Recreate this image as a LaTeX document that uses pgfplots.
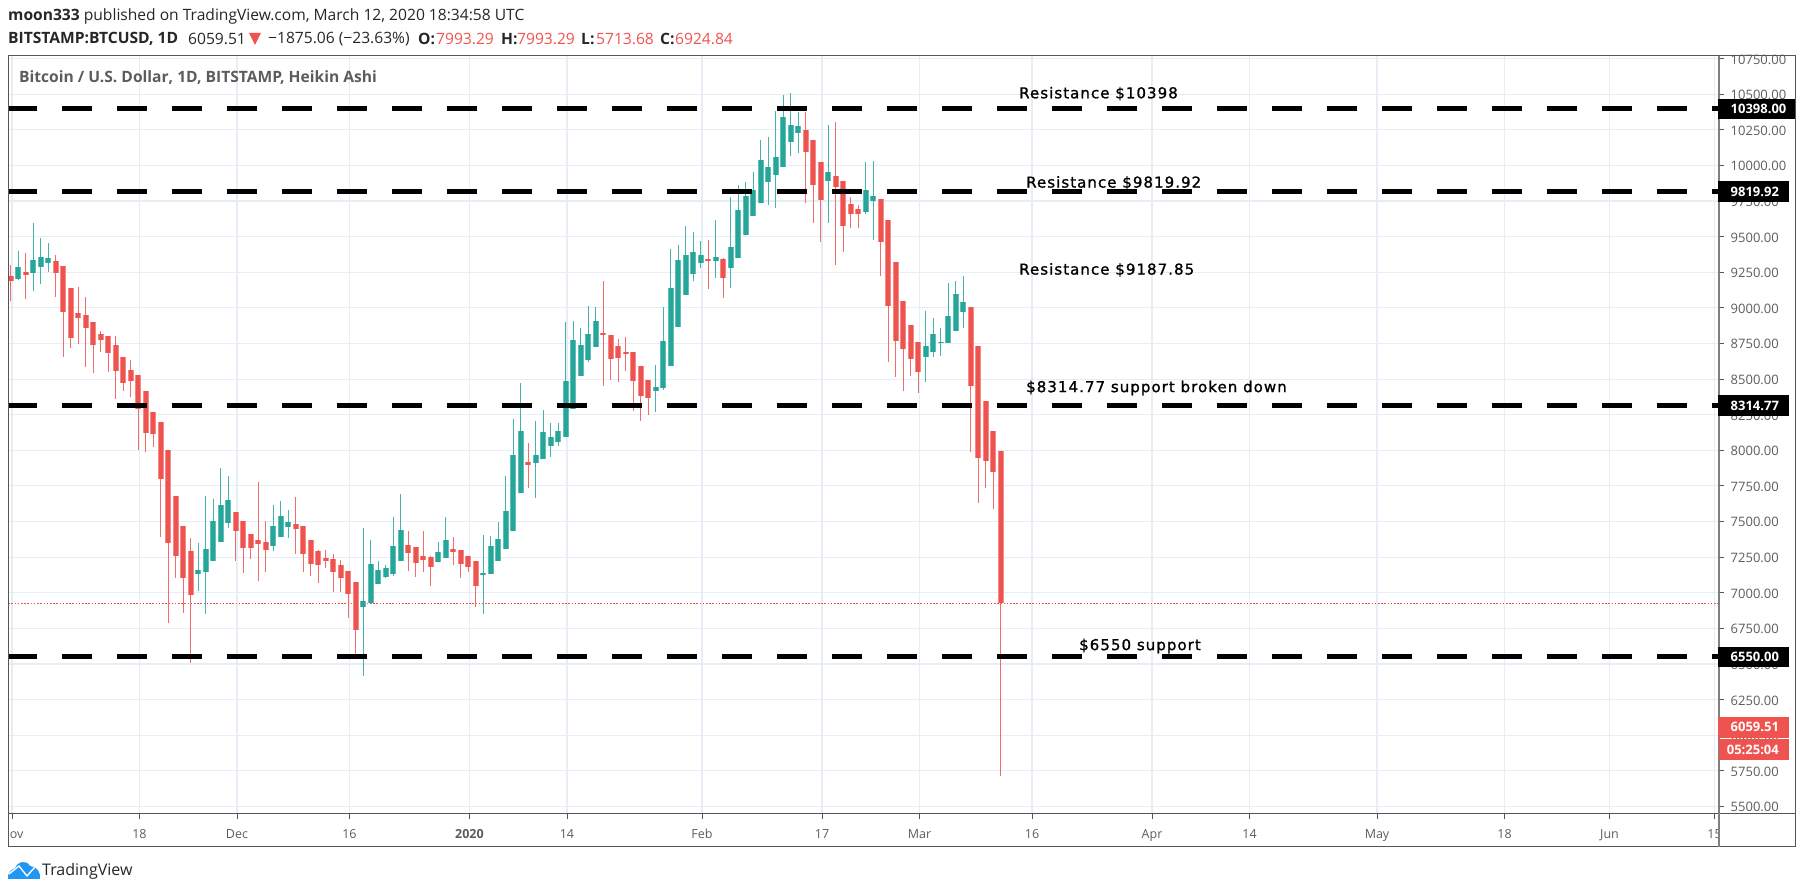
\documentclass[border=0pt]{standalone}
\usepackage{pgfplots}
\usepackage{pgfplotstable}
\usepackage{fontspec}
\pgfplotsset{compat=1.18}
\setmainfont{Open Sans}
\newfontfamily\annfont[FakeBold=1.2,LetterSpace=7]{DejaVu Sans}
\definecolor{upc}{HTML}{26A69A}
\definecolor{dnc}{HTML}{EF5350}
\definecolor{upe}{HTML}{62BFB6}
\definecolor{dne}{HTML}{F58A87}
\definecolor{gridc}{HTML}{E6EDF4}
\definecolor{framec}{HTML}{555555}
\definecolor{labc}{HTML}{5C5C5C}
\definecolor{tvblue}{HTML}{2196F3}
% day h(igh) t(op of body) b(ottom of body) l(ow)
\pgfplotstableread{
d h t b l
0 9301 9224 9191 9051
2 9383 9252 9233 9060
6 9371 9327 9243 9079
7 9294 9294 8973 8658
8 9137 9137 8786 8716
9 9144 8962 8927 8744
10 9074 8950 8859 8587
11 8899 8899 8737 8541
12 8835 8819 8772 8690
13 8800 8800 8681 8552
14 8800 8739 8559 8358
15 8653 8653 8473 8419
16 8634 8564 8489 8377
17 8529 8529 8288 8005
18 8414 8414 8122 7991
19 8267 8267 8112 8026
20 8197 8197 7796 7394
21 8005 8005 7347 6786
22 7677 7677 7261 7101
23 7467 7467 7101 6856
24 7382 7291 6982 6505
30 7565 7565 7436 7226
31 7502 7502 7312 7137
32 7415 7415 7312 7235
33 7775 7371 7340 7085
34 7502 7354 7303 7146
38 7670 7485 7445 7270
39 7468 7468 7270 7146
40 7373 7373 7199 7120
41 7300 7291 7192 7066
42 7300 7241 7225 7171
43 7274 7239 7148 7005
44 7230 7195 7101 7005
45 7150 7150 6989 6820
46 7073 7073 6741 6551
53 7431 7335 7279 7153
54 7319 7319 7206 7110
55 7431 7258 7232 7146
56 7258 7249 7183 7050
59 7389 7309 7286 7197
60 7300 7300 7199 7101
61 7258 7258 7181 7146
62 7220 7220 7050 6902
69 8049 7918 7899 7733
79 9189 8824 8812 8454
80 8810 8810 8639 8496
81 8784 8730 8646 8480
82 8793 8690 8679 8559
83 8688 8688 8489 8279
84 8590 8590 8384 8208
85 8494 8494 8365 8250
93 9477 9346 9332 9130
95 9348 9346 9208 9067
106 10378 10249 10095 9734
107 10179 10179 9865 9594
108 10022 10022 9760 9463
110 10303 9924 9849 9304
111 9889 9889 9577 9393
112 9776 9732 9657 9559
113 9722 9697 9657 9559
116 9767 9767 9463 9226
117 9617 9617 9015 8620
118 9320 9320 8770 8515
119 9046 9046 8709 8419
120 8882 8882 8639 8524
121 8758 8758 8552 8400
128 9004 9004 8454 7986
129 8730 8730 7944 7628
130 8344 8344 7927 7733
131 8133 8133 7848 7586
132 7993.29 7993.29 6924.84 5713.68
}\downcandles
\pgfplotstableread{
d h t b l
1 9399 9285 9200 9196
3 9594 9336 9243 9121
4 9488 9355 9289 9165
5 9453 9348 9313 9252
25 7347 7160 7130 7015
26 7677 7310 7148 6849
27 7661 7502 7226 7226
28 7874 7616 7359 7359
29 7818 7651 7490 7452
35 7616 7467 7331 7296
36 7642 7537 7394 7394
37 7581 7495 7464 7382
47 7452 6940 6900 6418
48 7370 7204 6926 6926
49 7220 7160 7059 7059
50 7197 7171 7108 7101
51 7532 7326 7129 7120
52 7695 7440 7225 7225
57 7354 7284 7216 7216
58 7529 7370 7241 7241
63 7405 7139 7127 6848
64 7398 7326 7129 7129
65 7494 7380 7225 7225
66 7817 7571 7305 7305
67 8222 7967 7436 7436
68 8471 8133 7698 7698
70 8203 7967 7908 7663
71 8283 8126 7936 7936
72 8189 8091 8032 7955
73 8194 8133 8060 8033
74 8899 8484 8094 8094
75 8906 8775 8288 8288
76 8856 8739 8524 8524
77 9013 8819 8632 8618
78 9004 8906 8725 8725
86 8599 8442 8419 8269
87 9004 8765 8438 8424
88 9416 9142 8594 8594
89 9441 9336 8866 8866
90 9575 9371 9093 9093
91 9530 9390 9236 9189
92 9470 9371 9313 9278
94 9617 9355 9332 9208
96 9776 9430 9278 9137
97 9863 9687 9348 9348
98 9882 9783 9514 9514
99 9952 9828 9648 9648
100 10179 10038 9734 9734
101 10198 9987 9884 9725
102 10380 10057 9935 9699
103 10495 10338 9987 9987
104 10506 10284 10165 10066
105 10378 10275 10226 10085
109 10284 9952 9893 9594
114 10022 9828 9673 9657
115 10031 9783 9753 9477
122 8976 8730 8657 8482
123 8926 8819 8692 8657
124 8856 8760 8751 8662
125 9172 8941 8753 8753
126 9186 9100 8840 8840
127 9224 9039 8973 8856
}\upcandles
\pgfplotsset{
  wick/.style={draw=none, no markers, forget plot,
    error bars/.cd, y dir=both, y explicit, error mark=none,
    error bar style={draw=#1, solid, line width=1.2pt}},
  body/.style n args={2}{draw=none, no markers, forget plot,
    error bars/.cd, y dir=plus, y explicit, error mark=none,
    error bar style={draw=#1, solid, line width=#2}},
}
\newcommand{\candles}[4]{% table, edge colour, core colour, wick colour
  \addplot[wick={#4}] table[x=d, y=b, y error plus expr=\thisrow{h}-\thisrow{b}, y error minus expr=\thisrow{b}-\thisrow{l}] {#1};
  \addplot[body={#2}{6.4pt}] table[x=d, y=b, y error plus expr=\thisrow{t}-\thisrow{b}] {#1};
  \addplot[body={#3}{4.2pt}] table[x=d, y=b, y error plus expr=\thisrow{t}-\thisrow{b}] {#1};
}
\begin{document}
\begin{tikzpicture}[x=1pt,y=1pt]
\path[use as bounding box] (0,0) rectangle (1804,894);
\begin{axis}[
  at={(8.3pt,80pt)}, anchor=south west,
  scale only axis, width=1710.7pt, height=758.3pt,
  xmin=-0.32, xmax=227.77, ymin=5447, ymax=10770.3,
  axis line style={draw=none},
  xtick={0.17,17.17,30.17,45.17,61.17,74.17,92.17,108.17,121.17,136.17,152.17,165.17,182.17,199.17,213.17,227.17},
  xticklabels={Nov,18,Dec,16,\textbf{2020},14,Feb,17,Mar,16,Apr,14,May,18,Jun,15},
  ytick={5500,5750,...,10750},
  scaled y ticks=false,
  yticklabel pos=right,
  grid=major,
  major grid style={gridc, line width=1.1pt},
  tick style={framec, line width=0.9pt},
  major tick length=5pt,
  tick align=outside,
  xtick pos=left, ytick pos=right,
  x tick label style={font=\fontsize{12.5}{14}\selectfont, text=labc, yshift=-9.5pt, anchor=north, inner sep=0pt, text height=10pt, text depth=0pt},
  y tick label style={font=\fontsize{13}{15}\selectfont, text=labc, anchor=west, xshift=6.5pt, yshift=-0.8pt, inner sep=0pt,
    /pgf/number format/assume math mode=true,
    /pgf/number format/fixed, /pgf/number format/fixed zerofill,
    /pgf/number format/precision=2, /pgf/number format/1000 sep={}},
  clip=true,
]
\addplot[dnc, line width=1pt, dash pattern=on 1.6pt off 1.6pt, forget plot] coordinates {(-0.32,6924.84) (227.77,6924.84)};
\candles{\downcandles}{dne}{dnc}{dnc!85!white}
\candles{\upcandles}{upe}{upc}{upc!85!white}
\addplot[black, line width=5pt, dash pattern=on 30pt off 25pt, forget plot] coordinates {(-0.493,10398) (227.77,10398)};
\addplot[black, line width=5pt, dash pattern=on 30pt off 25pt, forget plot] coordinates {(-0.493,9819.92) (227.77,9819.92)};
\addplot[black, line width=5pt, dash pattern=on 30pt off 25pt, forget plot] coordinates {(-0.493,8314.77) (227.77,8314.77)};
\addplot[black, line width=5pt, dash pattern=on 30pt off 25pt, forget plot] coordinates {(-0.493,6550) (227.77,6550)};
\end{axis}
% cover the parts of the first and last time labels that leave the pane
\fill[white] (0,47.3) rectangle (8.3,80);
\fill[white] (1719,47.3) rectangle (1795.7,80);
% frame and scales
\draw[framec, line width=1.2pt] (8.3,47.3) rectangle (1795.7,838.3);
\draw[framec, line width=1pt] (8.3,80) -- (1795.7,80);
\draw[gray, line width=1.8pt] (1719,47.3) -- (1719,838.3);
% price labels
\newcommand{\pricebox}[5]{% y-top, y-bottom, right, colour, text
  \fill[#4] (1718,{894-#1}) rectangle (#3,{894-#2});
  \node[anchor=west, inner sep=0pt, text=white, font=\fontsize{13}{15}\selectfont\bfseries] at (1730.5,{894-(#1+#2)/2}) {#5};
}
\pricebox{98.7}{119.3}{1795}{black}{10398.00}
\pricebox{181}{202}{1789}{black}{9819.92}
\pricebox{395.5}{416}{1789}{black}{8314.77}
\pricebox{646.7}{667.3}{1789}{black}{6550.00}
\pricebox{716.7}{738}{1789}{dnc}{6059.51}
\fill[dnc] (1719,{894-739.3}) rectangle (1789,{894-760});
\node[anchor=east, inner sep=0pt, text=white, font=\fontsize{13}{15}\selectfont\bfseries] at (1779,{894-749.6}) {05:25:04};
% annotations
\tikzset{ann/.style={anchor=west, inner sep=0pt, text=black, font=\annfont\fontsize{15}{17}\selectfont}}
\node[ann] at (1019,{894-93.7}) {Resistance \$10398};
\node[ann] at (1026,{894-183}) {Resistance \$9819.92};
\node[ann] at (1019,{894-270}) {Resistance \$9187.85};
\node[ann] at (1026,{894-388}) {\$8314.77 support broken down};
\node[ann] at (1079,{894-646}) {\$6550 support};
% headers
\tikzset{hd/.style={anchor=west, inner sep=0pt, font=\fontsize{15.6}{17}\selectfont}}
\node[hd, text=black!85] at (8,{894-16.5}) {\textbf{moon333} published on TradingView.com, March 12, 2020 18:34:58 UTC};
\node[hd, text=black!85] at (8,{894-39}) {\textbf{BITSTAMP:BTCUSD, 1D}};
\node[hd, text=black!85] at (188,{894-39}) {6059.51};
\fill[dnc] (249,{894-33}) -- (261,{894-33}) -- (255,{894-45}) -- cycle;
\node[hd, text=black!85] at (268,{894-39}) {−1875.06 (−23.63\%)};
\node[hd, text=black!85] at (418,{894-39}) {\textbf{O:}};
\node[hd, text=dnc] at (436,{894-39}) {7993.29};
\node[hd, text=black!85] at (501,{894-39}) {\textbf{H:}};
\node[hd, text=dnc] at (517,{894-39}) {7993.29};
\node[hd, text=black!85] at (581,{894-39}) {\textbf{L:}};
\node[hd, text=dnc] at (596,{894-39}) {5713.68};
\node[hd, text=black!85] at (660,{894-39}) {\textbf{C:}};
\node[hd, text=dnc] at (675,{894-39}) {6924.84};
\node[hd, text=labc] at (19,{894-77.7}) {\textbf{Bitcoin / U.S. Dollar, 1D, BITSTAMP, Heikin Ashi}};
% logo
\fill[tvblue] (8,{894-879}) .. controls (7,{894-873}) and (11,{894-870}) .. (15,{894-868})
  .. controls (17,{894-862}) and (26,{894-859}) .. (30,{894-866})
  .. controls (37,{894-866}) and (41,{894-873}) .. (40,{894-879}) -- cycle;
\draw[white, line width=1.4pt] (9,{894-874}) -- (19,{894-866}) -- (27,{894-876}) -- (35,{894-867});
\node[anchor=west, inner sep=0pt, text=black!85, font=\fontsize{16}{18}\selectfont] at (42,{894-871.5}) {TradingView};
\end{tikzpicture}
\end{document}
